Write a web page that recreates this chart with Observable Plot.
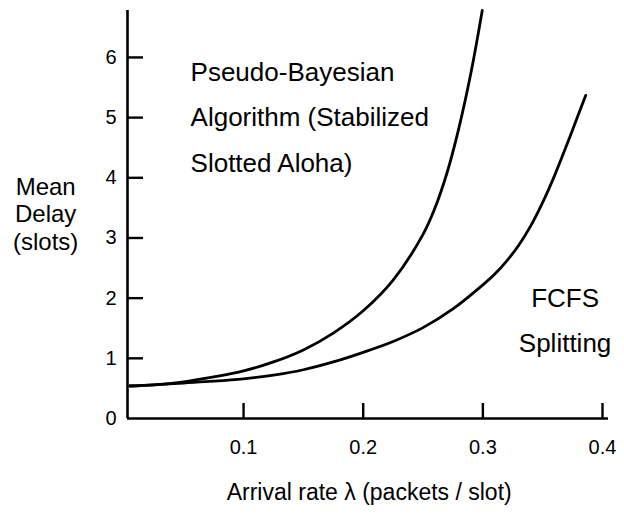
<!DOCTYPE html>
<html>
<head>
<meta charset="utf-8">
<script src="https://cdn.jsdelivr.net/npm/d3@7"></script>
<script src="https://cdn.jsdelivr.net/npm/@observablehq/plot@0.6"></script>
<style>
  html, body { margin: 0; padding: 0; background: #fff; }
  #chart { width: 624px; height: 519px; }
</style>
</head>
<body>
<div id="chart"></div>
<script>
// Arrival rate (packets / slot) and mean delay (slots)
const pbLambda = [0.005, 0.025, 0.05, 0.075, 0.1, 0.125, 0.15, 0.175, 0.2, 0.225, 0.25, 0.26, 0.27, 0.28, 0.29, 0.2995];
const pbDelay  = [0.54, 0.56, 0.61, 0.69, 0.79, 0.94, 1.14, 1.42, 1.79, 2.30, 3.06, 3.50, 4.08, 4.83, 5.74, 6.78];

const fcLambda = [0.005, 0.025, 0.05, 0.075, 0.1, 0.125, 0.15, 0.175, 0.2, 0.225, 0.25, 0.275, 0.3, 0.31, 0.32, 0.33, 0.34, 0.35, 0.36, 0.37, 0.38, 0.386];
const fcDelay  = [0.54, 0.56, 0.59, 0.62, 0.66, 0.72, 0.81, 0.94, 1.10, 1.28, 1.51, 1.82, 2.22, 2.40, 2.62, 2.88, 3.20, 3.59, 4.04, 4.54, 5.06, 5.37];

const xTicks = [0.1, 0.2, 0.3, 0.4];
const yTicks = [0, 1, 2, 3, 4, 5, 6];

const pbLabel = "Pseudo-Bayesian\nAlgorithm (Stabilized\nSlotted Aloha)";
const fcLabel = "FCFS\nSplitting";
const yLabel = "Mean\nDelay\n(slots)";
const xLabel = "Arrival rate λ (packets / slot)";

const pb = pbLambda.map((x, i) => ({x, y: pbDelay[i]}));
const fc = fcLambda.map((x, i) => ({x, y: fcDelay[i]}));

const x0 = 0.003;
const frameH = 519 - 10 - 101;
const frameW = 624 - 127 - 16;

const chart = Plot.plot({
  width: 624,
  height: 519,
  marginLeft: 127,
  marginRight: 16,
  marginTop: 10,
  marginBottom: 101,
  x: {domain: [x0, 0.405], axis: null},
  y: {domain: [0, 6.78], axis: null},
  style: {fontFamily: "'Liberation Sans', Arial, sans-serif", background: "#fff", color: "#000"},
  marks: [
    Plot.ruleY([0], {stroke: "#000", strokeWidth: 2.6}),
    Plot.ruleX([x0], {stroke: "#000", strokeWidth: 2.6}),
    Plot.ruleX(xTicks, {insetTop: frameH - 15, stroke: "#000", strokeWidth: 2.4}),
    Plot.ruleY(yTicks.filter(d => d > 0), {x1: x0, x2: 0.405, insetRight: frameW - 16, stroke: "#000", strokeWidth: 2.4}),
    Plot.text(xTicks, {x: d => d, y: 0, dy: 29, text: d => String(d), fontSize: 20, fill: "#000"}),
    Plot.text(yTicks, {x: x0, y: d => d, dx: -11, text: d => String(d), textAnchor: "end", fontSize: 20, fill: "#000"}),
    Plot.line(pb, {x: "x", y: "y", curve: "catmull-rom", stroke: "#000", strokeWidth: 2.8}),
    Plot.line(fc, {x: "x", y: "y", curve: "catmull-rom", stroke: "#000", strokeWidth: 2.8}),
    Plot.text([pbLabel], {x: 0.0557, y: 5.1, text: d => d, textAnchor: "start", lineAnchor: "middle", lineHeight: 1.75, fontSize: 26, fill: "#000"}),
    Plot.text([fcLabel], {x: 0.3687, y: 1.72, text: d => d, textAnchor: "middle", lineAnchor: "middle", lineHeight: 1.72, fontSize: 26, fill: "#000"}),
    Plot.text([yLabel], {x: -0.0654, y: 3.41, text: d => d, textAnchor: "middle", lineAnchor: "middle", lineHeight: 1.15, fontSize: 24, fill: "#000"}),
    Plot.text([xLabel], {x: 0.205, y: 0, dy: 74, text: d => d, textAnchor: "middle", lineAnchor: "middle", fontSize: 23, fill: "#000"})
  ]
});
document.getElementById("chart").append(chart);
</script>
</body>
</html>
